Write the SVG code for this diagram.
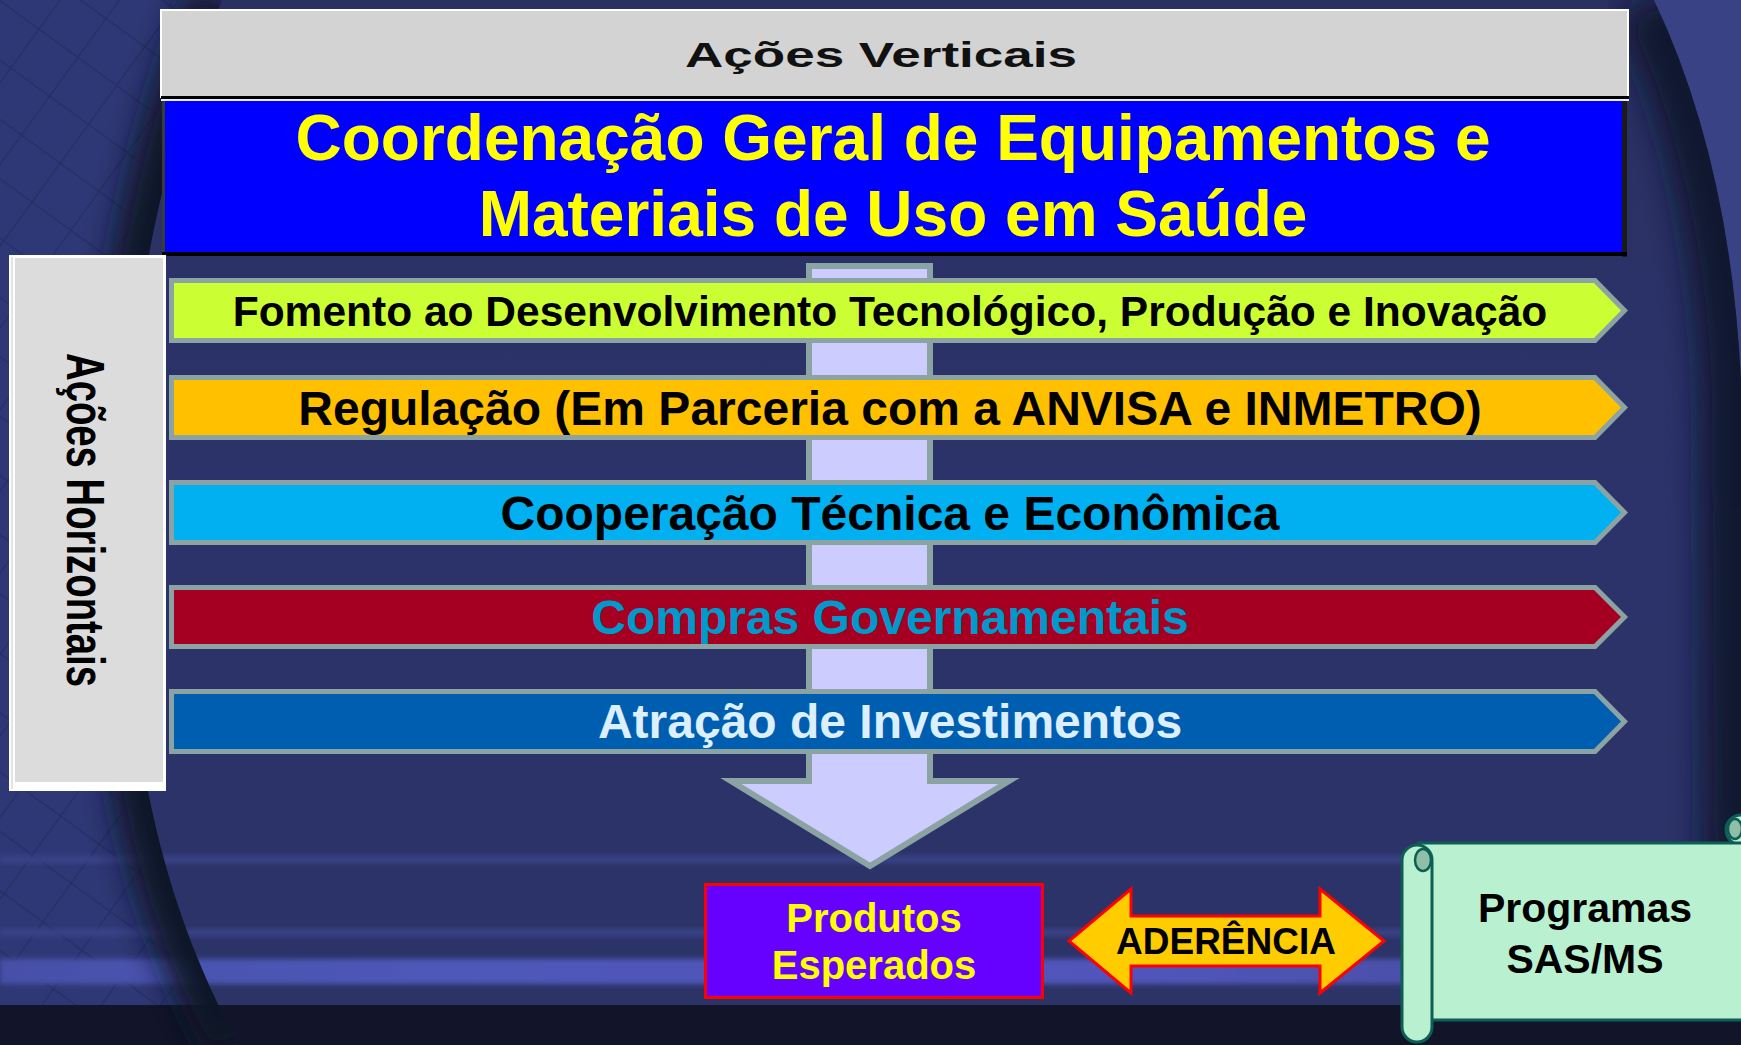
<svg xmlns="http://www.w3.org/2000/svg" width="1741" height="1045" viewBox="0 0 1741 1045">
<defs>
<style>
text { font-family: "Liberation Sans", Arial, Helvetica, sans-serif; font-weight: bold; text-anchor: middle; }
.bar { stroke: #8ba3a3; stroke-width: 5; stroke-linejoin: miter; }
.scroll { fill: #b9f0cf; stroke: #0d5f55; stroke-width: 3; }
.curl { fill: #8fbfa6; stroke: #0d5f55; stroke-width: 2.5; }
.streak { fill: #3a4289; }
</style>
<linearGradient id="bg" x1="0" y1="0" x2="0" y2="1">
<stop offset="0" stop-color="#2a3062"/>
<stop offset="0.5" stop-color="#2c336a"/>
<stop offset="1" stop-color="#2c3367"/>
</linearGradient>
<pattern id="grid" patternUnits="userSpaceOnUse" width="48" height="48" patternTransform="rotate(36)">
<path d="M0,0 H48 M0,0 V48" stroke="#232b5e" stroke-width="2.5" fill="none"/>
</pattern>
<filter id="blur" x="-50%" y="-50%" width="200%" height="200%"><feGaussianBlur stdDeviation="16"/></filter>
<filter id="soft" x="-10%" y="-200%" width="120%" height="500%"><feGaussianBlur stdDeviation="2.5"/></filter>
<clipPath id="leftClip"><path d="M0,0 H222 C150,180 110,420 125,600 C135,760 160,900 239,1045 H0 Z"/></clipPath>
<clipPath id="midClip"><path d="M222,0 H1654 Q1730,160 1741,380 V1045 H239 C160,900 135,760 125,600 C110,420 150,180 222,0 Z"/></clipPath>
<linearGradient id="brightStreak" x1="0" y1="0" x2="1" y2="0">
<stop offset="0" stop-color="#4650a8"/>
<stop offset="0.3" stop-color="#4e58b8"/>
<stop offset="0.8" stop-color="#5155bb"/>
<stop offset="1" stop-color="#4a50a8"/>
</linearGradient>
</defs>

<g id="background">
<rect width="1741" height="1045" fill="url(#bg)"/>
<path d="M0,0 H222 C150,180 110,420 125,600 C135,760 160,900 239,1045 H0 Z" fill="#2f3876"/>
<path d="M0,0 H222 C150,180 110,420 125,600 C135,760 160,900 239,1045 H0 Z" fill="url(#grid)" opacity="0.8"/>
<path d="M1654,0 Q1730,160 1741,380 V0 Z" fill="#3a4286"/>
<g clip-path="url(#midClip)">
<path d="M1654,0 Q1730,160 1741,380 L1745,1045" stroke="#10132b" stroke-width="80" fill="none" filter="url(#blur)" opacity="0.9"/>
</g>
<rect x="0" y="856" width="1420" height="7" class="streak" filter="url(#soft)"/>
<rect x="0" y="929" width="1420" height="7" class="streak" filter="url(#soft)"/>
<rect x="0" y="959" width="1420" height="25" fill="url(#brightStreak)" filter="url(#soft)"/>
<rect x="0" y="1005" width="1741" height="40" fill="#121529"/>
<g clip-path="url(#leftClip)">
<path d="M222,0 C150,180 110,420 125,600 C135,760 160,900 239,1045" stroke="#0f1228" stroke-width="70" fill="none" filter="url(#blur)"/>
</g>
</g>

<g id="header-acoes-verticais">
<rect x="161" y="10" width="1467" height="87" fill="#d3d3d3" stroke="#ffffff" stroke-width="2"/>
<text x="881" y="67" font-size="35" fill="#111111" textLength="392" lengthAdjust="spacingAndGlyphs">Ações Verticais</text>
</g>

<g id="coordenacao">
<rect x="163" y="100" width="1462" height="155" fill="#0000ff"/>
<rect x="162" y="100" width="3" height="155" fill="#3a3a3a"/>
<rect x="1622" y="100" width="5" height="157" fill="#1a1a1a"/>
<rect x="162" y="252" width="1465" height="4" fill="#000000"/>
<rect x="161" y="96" width="1468" height="3" fill="#000000"/>
<rect x="161" y="99" width="1468" height="2" fill="#e8ecff"/>
<text x="893" y="160" font-size="64" fill="#ffff00">Coordenação Geral de Equipamentos e</text>
<text x="893" y="236" font-size="64" fill="#ffff00">Materiais de Uso em Saúde</text>
</g>

<g id="acoes-horizontais">
<rect x="9" y="255" width="157" height="536" fill="#ffffff"/>
<rect x="15" y="258" width="148" height="524" fill="#dcdcdc"/>
<line x1="12" y1="257" x2="12" y2="789" stroke="#c8c8c8" stroke-width="1"/>
<text transform="translate(67,520) rotate(90)" x="0" y="0" font-size="54" fill="#000000" textLength="334" lengthAdjust="spacingAndGlyphs">Ações Horizontais</text>
</g>

<g id="connectors">
<polygon id="seta-vertical" points="809,266 930,266 930,781 1009,781 870,866 731,781 809,781" fill="#ccccff" stroke="#8ba3a3" stroke-width="6" stroke-linejoin="miter"/>
</g>

<g id="fomento">
<path class="bar" d="M171.5,280.5 H1595 L1624.5,310.5 L1595,340.5 H171.5 Z" fill="#ccff33"/>
<text x="890" y="326" font-size="42.5" fill="#000000">Fomento ao Desenvolvimento Tecnológico, Produção e Inovação</text>
</g>

<g id="regulacao">
<path class="bar" d="M171.5,377.5 H1595 L1624.5,407.5 L1595,437.5 H171.5 Z" fill="#ffc000"/>
<text x="890" y="425" font-size="48" fill="#000000">Regulação (Em Parceria com a ANVISA e INMETRO)</text>
</g>

<g id="cooperacao">
<path class="bar" d="M171.5,482.5 H1595 L1624.5,512.5 L1595,542.5 H171.5 Z" fill="#00b0f0"/>
<text x="890" y="530" font-size="48" fill="#000000">Cooperação Técnica e Econômica</text>
</g>

<g id="compras">
<path class="bar" d="M171.5,587.5 H1595 L1624.5,617 L1595,646.5 H171.5 Z" fill="#a50021"/>
<text x="890" y="634" font-size="48" fill="#0099cc">Compras Governamentais</text>
</g>

<g id="atracao">
<path class="bar" d="M171.5,691.5 H1595 L1624.5,721.5 L1595,751.5 H171.5 Z" fill="#005eb0"/>
<text x="890" y="738" font-size="48" fill="#dcefff">Atração de Investimentos</text>
</g>

<g id="produtos">
<rect x="705.5" y="884.5" width="337" height="113" fill="#6600ff" stroke="#ff0000" stroke-width="3"/>
<text x="874" y="932" font-size="40" fill="#ffff00">Produtos</text>
<text x="874" y="979" font-size="40" fill="#ffff00">Esperados</text>
</g>

<g id="aderencia">
<polygon points="1069,941 1131,889 1131,916 1320,916 1320,889 1384,941 1320,993 1320,966 1131,966 1131,993" fill="#ffcc00" stroke="#ff0000" stroke-width="3"/>
<text x="1226" y="954" font-size="37" fill="#000000">ADERÊNCIA</text>
</g>

<g id="programas">
<circle class="scroll" cx="1741" cy="830" r="15"/>
<ellipse class="curl" cx="1735" cy="829" rx="7" ry="10"/>
<path class="scroll" d="M1417,843 H1760 V1020 H1432"/>
<rect class="scroll" x="1402" y="845" width="30" height="197" rx="15"/>
<ellipse class="curl" cx="1423" cy="860" rx="8" ry="11"/>
<text x="1585" y="922" font-size="41" fill="#000000">Programas</text>
<text x="1585" y="973" font-size="41" fill="#000000">SAS/MS</text>
</g>
</svg>
